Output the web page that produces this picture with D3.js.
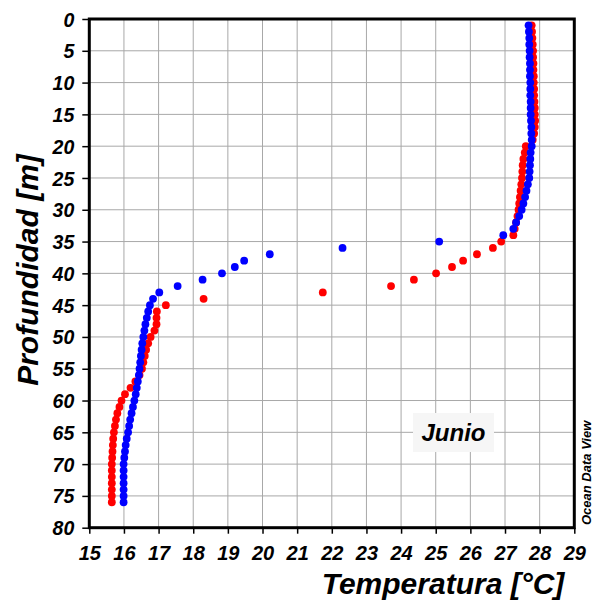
<!DOCTYPE html>
<html>
<head>
<meta charset="utf-8">
<script src="https://d3js.org/d3.v7.min.js"></script>
<style>
    body { margin: 0; background: #fff; }
    text { font-family: 'Liberation Sans', Arial, sans-serif; font-weight: bold; font-style: italic; }
</style>
</head>
<body>
<svg id="drawing_region"></svg>
<script>
// depth [m] of each sample
const depths = [1, 2, 3, 4, 5, 6, 7, 8, 9, 10, 11, 12, 13, 14, 15, 16, 17, 18, 19, 20,
    21, 22, 23, 24, 25, 26, 27, 28, 29, 30, 31, 32, 33, 34, 35, 36, 37, 38, 39, 40,
    41, 42, 43, 44, 45, 46, 47, 48, 49, 50, 51, 52, 53, 54, 55, 56, 57, 58, 59, 60,
    61, 62, 63, 64, 65, 66, 67, 68, 69, 70, 71, 72, 73, 74, 75, 76];

// red cast
const temp_red = [27.77, 27.78, 27.79, 27.80, 27.81, 27.81, 27.82, 27.82, 27.83, 27.83,
    27.84, 27.84, 27.85, 27.86, 27.86, 27.87, 27.86, 27.84, 27.80, 27.60,
    27.57, 27.53, 27.51, 27.50, 27.49, 27.47, 27.45, 27.43, 27.41, 27.39,
    27.36, 27.32, 27.28, 27.24, 26.89, 26.65, 26.19, 25.79, 25.47, 25.01,
    24.37, 23.71, 21.74, 18.30, 17.21, 16.95, 16.94, 16.94, 16.88, 16.77,
    16.70, 16.64, 16.60, 16.56, 16.52, 16.45, 16.33, 16.19, 16.03, 15.93,
    15.87, 15.81, 15.77, 15.74, 15.71, 15.69, 15.68, 15.67, 15.66, 15.65,
    15.65, 15.65, 15.65, 15.65, 15.65, 15.65];

// blue cast
const temp_blue = [27.68, 27.69, 27.70, 27.70, 27.71, 27.71, 27.72, 27.72, 27.72, 27.73,
    27.73, 27.73, 27.74, 27.74, 27.74, 27.75, 27.76, 27.76, 27.77, 27.77,
    27.74, 27.73, 27.72, 27.71, 27.70, 27.66, 27.62, 27.58, 27.53, 27.48,
    27.41, 27.32, 27.24, 26.95, 25.10, 22.31, 20.21, 19.47, 19.20, 18.83,
    18.27, 17.55, 17.02, 16.84, 16.75, 16.70, 16.66, 16.62, 16.59, 16.56,
    16.53, 16.51, 16.49, 16.47, 16.45, 16.43, 16.40, 16.37, 16.34, 16.30,
    16.26, 16.22, 16.18, 16.15, 16.12, 16.08, 16.05, 16.03, 16.01, 15.99,
    15.99, 15.99, 15.99, 15.99, 15.99, 15.99];

const x_ticks = [15, 16, 17, 18, 19, 20, 21, 22, 23, 24, 25, 26, 27, 28, 29];
const y_ticks = [0, 5, 10, 15, 20, 25, 30, 35, 40, 45, 50, 55, 60, 65, 70, 75, 80];

var config = {
    parent: '#drawing_region',
    width: 602,
    height: 612,
    margin: { top: 19, right: 27.7, bottom: 84.3, left: 89.3 },
};

class ProfilePlot {
    constructor(config) {
        this.config = config;
        this.init();
    }

    init() {
        let self = this;
        self.inner_width = self.config.width - self.config.margin.left - self.config.margin.right;
        self.inner_height = self.config.height - self.config.margin.top - self.config.margin.bottom;

        self.svg = d3.select(self.config.parent)
            .attr('width', self.config.width)
            .attr('height', self.config.height);

        self.chart = self.svg.append('g')
            .attr('transform', `translate(${self.config.margin.left}, ${self.config.margin.top})`);

        self.xscale = d3.scaleLinear()
            .domain([15, 29])
            .range([0, self.inner_width]);

        self.yscale = d3.scaleLinear()
            .domain([0, 80])
            .range([0, self.inner_height]);

        self.xaxis = d3.axisBottom(self.xscale)
            .tickValues(x_ticks)
            .tickSize(6)
            .tickSizeOuter(0)
            .tickFormat(d3.format('d'));

        self.yaxis = d3.axisLeft(self.yscale)
            .tickValues(y_ticks)
            .tickSize(7)
            .tickSizeOuter(0)
            .tickFormat(d3.format('d'));
    }

    render() {
        let self = this;

        // grid
        self.chart.append('g')
            .selectAll('line')
            .data(x_ticks)
            .join('line')
            .attr('x1', d => self.xscale(d))
            .attr('x2', d => self.xscale(d))
            .attr('y1', 0)
            .attr('y2', self.inner_height)
            .attr('stroke', '#a8a8a8')
            .attr('stroke-width', 1);

        self.chart.append('g')
            .selectAll('line')
            .data(y_ticks)
            .join('line')
            .attr('x1', 0)
            .attr('x2', self.inner_width)
            .attr('y1', d => self.yscale(d))
            .attr('y2', d => self.yscale(d))
            .attr('stroke', '#a8a8a8')
            .attr('stroke-width', 1);

        // axes
        let xg = self.chart.append('g')
            .attr('transform', `translate(0, ${self.inner_height})`)
            .call(self.xaxis);
        xg.select('.domain').remove();
        xg.selectAll('line').attr('stroke', 'black').attr('stroke-width', 1.5);
        xg.selectAll('text')
            .attr('y', 32)
            .attr('dy', 0)
            .attr('font-size', '20px')
            .attr('fill', 'black')
            .style('font-family', "'Liberation Sans', Arial, sans-serif");

        let yg = self.chart.append('g')
            .call(self.yaxis);
        yg.select('.domain').remove();
        yg.selectAll('line').attr('stroke', 'black').attr('stroke-width', 1.5);
        yg.selectAll('text')
            .attr('x', -15)
            .attr('dy', '0.36em')
            .attr('font-size', '19.5px')
            .attr('fill', 'black')
            .style('font-family', "'Liberation Sans', Arial, sans-serif");

        // red dots first, blue on top
        self.chart.append('g')
            .selectAll('circle')
            .data(depths)
            .join('circle')
            .attr('cx', (d, i) => self.xscale(temp_red[i]))
            .attr('cy', d => self.yscale(d))
            .attr('r', 3.9)
            .attr('fill', '#ff0000');

        self.chart.append('g')
            .selectAll('circle')
            .data(depths)
            .join('circle')
            .attr('cx', (d, i) => self.xscale(temp_blue[i]))
            .attr('cy', d => self.yscale(d))
            .attr('r', 3.9)
            .attr('fill', '#0000ff');

        // frame
        self.chart.append('rect')
            .attr('width', self.inner_width)
            .attr('height', self.inner_height)
            .attr('fill', 'none')
            .attr('stroke', 'black')
            .attr('stroke-width', 3);

        // Junio label
        self.svg.append('rect')
            .attr('x', 413)
            .attr('y', 413)
            .attr('width', 81)
            .attr('height', 39)
            .attr('fill', '#f6f6f6');
        self.svg.append('text')
            .attr('x', 453.5)
            .attr('y', 441)
            .attr('text-anchor', 'middle')
            .attr('font-size', '24px')
            .text('Junio');

        // axis titles
        self.svg.append('text')
            .attr('x', 443)
            .attr('y', 594)
            .attr('text-anchor', 'middle')
            .attr('font-size', '30px')
            .text('Temperatura [°C]');

        self.svg.append('text')
            .attr('transform', `translate(38, 270) rotate(-90)`)
            .attr('text-anchor', 'middle')
            .attr('font-size', '30px')
            .text('Profundidad [m]');

        self.svg.append('text')
            .attr('transform', `translate(591, 525) rotate(-90)`)
            .attr('text-anchor', 'start')
            .attr('font-size', '13px')
            .text('Ocean Data View');
    }
}

let plot = new ProfilePlot(config);
plot.render();
</script>
</body>
</html>
